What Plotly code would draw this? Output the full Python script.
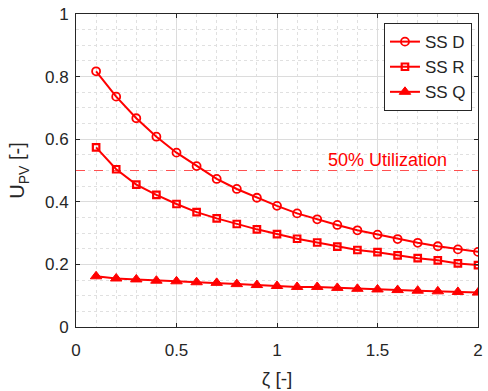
import plotly.graph_objects as go

zeta = [0.1, 0.2, 0.3, 0.4, 0.5, 0.6, 0.7, 0.8, 0.9, 1.0,
        1.1, 1.2, 1.3, 1.4, 1.5, 1.6, 1.7, 1.8, 1.9, 2.0]
ss_d = [0.817, 0.736, 0.667, 0.608, 0.557, 0.514, 0.473, 0.441, 0.413, 0.387,
        0.363, 0.344, 0.326, 0.309, 0.295, 0.281, 0.269, 0.258, 0.248, 0.240]
ss_r = [0.574, 0.504, 0.455, 0.422, 0.393, 0.367, 0.347, 0.329, 0.312, 0.297,
        0.282, 0.270, 0.257, 0.246, 0.239, 0.229, 0.220, 0.213, 0.203, 0.198]
ss_q = [0.162, 0.155, 0.152, 0.148, 0.146, 0.143, 0.141, 0.137, 0.134, 0.131,
        0.128, 0.128, 0.125, 0.122, 0.120, 0.118, 0.116, 0.114, 0.112, 0.110]
util_level = 0.5
util_x = [0, 2]

RED = "#ff0000"
FONT = "Liberation Sans, Arial, sans-serif"
DARK = "#262626"

fig = go.Figure()
fig.add_trace(go.Scatter(x=util_x, y=[util_level, util_level], mode="lines",
                         line=dict(color="#ff5050", width=1.2, dash="dash"),
                         showlegend=False, hoverinfo="skip"))
fig.add_trace(go.Scatter(x=zeta, y=ss_d, name="SS D", mode="lines+markers",
                         line=dict(color=RED, width=2),
                         marker=dict(symbol="circle-open", size=8, color=RED,
                                     line=dict(width=1.8, color=RED))))
fig.add_trace(go.Scatter(x=zeta, y=ss_r, name="SS R", mode="lines+markers",
                         line=dict(color=RED, width=2),
                         marker=dict(symbol="square-open", size=6.5, color=RED,
                                     line=dict(width=2.2, color=RED))))
fig.add_trace(go.Scatter(x=zeta, y=ss_q, name="SS Q", mode="lines+markers",
                         line=dict(color=RED, width=2),
                         marker=dict(symbol="triangle-up", size=10, color=RED,
                                     line=dict(width=1, color=RED))))

fig.add_annotation(x=1.55, y=0.535, text="50% Utilization", showarrow=False,
                   font=dict(family=FONT, size=18, color=RED))

axis_common = dict(
    showline=True, linecolor=DARK, linewidth=1, mirror="ticks",
    ticks="inside", ticklen=4, tickcolor=DARK,
    showgrid=True, gridcolor="#dcdcdc", gridwidth=1,
    zeroline=False,
    tickfont=dict(family=FONT, size=17, color=DARK),
)

fig.update_xaxes(range=[0, 2], dtick=0.5, tick0=0, ticklabelstandoff=8,
                 minor=dict(dtick=0.1, showgrid=True, gridcolor="#e0e0e0",
                            griddash="dot", ticks=""),
                 title=dict(text="ζ [-]", font=dict(family=FONT, size=19, color=DARK),
                            standoff=12),
                 **axis_common)
fig.update_yaxes(range=[0, 1], dtick=0.2, tick0=0, ticklabelstandoff=3,
                 minor=dict(dtick=0.05, showgrid=True, gridcolor="#e0e0e0",
                            griddash="dot", ticks=""),
                 title=dict(text="U<sub>PV</sub> [-]", font=dict(family=FONT, size=20, color=DARK),
                            standoff=14),
                 **axis_common)

fig.update_layout(
    width=488, height=391,
    margin=dict(l=76, r=5, t=14, b=64),
    plot_bgcolor="white", paper_bgcolor="white",
    legend=dict(x=0.985, y=0.971, xanchor="right", yanchor="top",
                bordercolor=DARK, borderwidth=1, bgcolor="white",
                font=dict(family=FONT, size=17, color=DARK),
                tracegroupgap=0, itemwidth=30),
)

fig.write_html("out.html")
